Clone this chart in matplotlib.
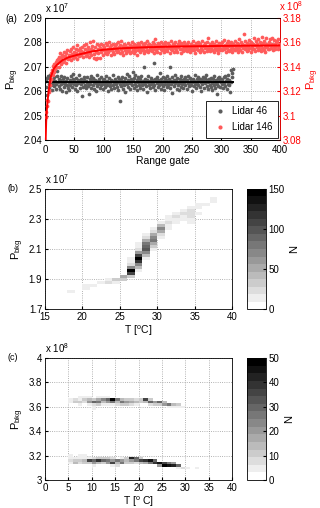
import numpy as np
import matplotlib
matplotlib.use('Agg')
import matplotlib.pyplot as plt
from matplotlib.colors import ListedColormap
from matplotlib.ticker import FuncFormatter
from matplotlib.lines import Line2D

plt.rcParams['font.family'] = ['Liberation Sans', 'DejaVu Sans']
plt.rcParams['mathtext.default'] = 'regular'
plt.rcParams['xtick.direction'] = 'in'
plt.rcParams['ytick.direction'] = 'in'
plt.rcParams['xtick.major.size'] = 2.5
plt.rcParams['ytick.major.size'] = 2.5
plt.rcParams['axes.linewidth'] = 0.6

# ---------------- panel (a) data ----------------
# Lidar 46 background power, one value per range gate (units of 1e3)
lidar46 = [
    20642, 20618, 20585, 20655, 20661, 20630, 20612, 20648, 20667, 20624, 20639, 20603, 20651, 20633, 20620, 20658, 20641, 20609, 20629, 20664,
    20683, 20637, 20622, 20650, 20611, 20644, 20628, 20662, 20601, 20635, 20648, 20619, 20657, 20631, 20596, 20640, 20625, 20653, 20614, 20638,
    20606, 20646, 20627, 20661, 20633, 20618, 20650, 20672, 20629, 20641, 20610, 20655, 20624, 20637, 20599, 20645, 20632, 20666, 20615, 20640,
    20628, 20652, 20581, 20636, 20619, 20647, 20660, 20626, 20643, 20612, 20638, 20657, 20621, 20633, 20588, 20649, 20630, 20615, 20662, 20641,
    20624, 20655, 20610, 20637, 20646, 20602, 20633, 20668, 20620, 20641, 20629, 20652, 20613, 20639, 20625, 20658, 20634, 20607, 20645, 20631,
    20650, 20618, 20639, 20662, 20627, 20643, 20600, 20636, 20654, 20621, 20632, 20647, 20609, 20640, 20666, 20625, 20638, 20614, 20651, 20629,
    20643, 20619, 20636, 20660, 20604, 20648, 20631, 20558, 20645, 20622, 20657, 20634, 20611, 20641, 20626, 20653, 20598, 20639, 20672, 20628,
    20646, 20617, 20664, 20633, 20608, 20651, 20639, 20624, 20680, 20642, 20613, 20655, 20630, 20667, 20621, 20644, 20603, 20636, 20658, 20627,
    20649, 20615, 20638, 20661, 20626, 20643, 20609, 20634, 20700, 20631, 20652, 20620, 20645, 20597, 20637, 20663, 20624, 20641, 20612, 20656,
    20630, 20647, 20619, 20639, 20714, 20627, 20651, 20606, 20642, 20633, 20660, 20618, 20645, 20625, 20674, 20636, 20611, 20649, 20629, 20657,
    20622, 20640, 20605, 20653, 20631, 20646, 20617, 20664, 20635, 20626, 20651, 20700, 20613, 20642, 20629, 20658, 20594, 20638, 20647, 20620,
    20668, 20632, 20644, 20611, 20655, 20626, 20639, 20603, 20648, 20635, 20619, 20661, 20630, 20645, 20614, 20652, 20637, 20624, 20659, 20641,
    20608, 20646, 20633, 20662, 20620, 20638, 20655, 20627, 20644, 20599, 20636, 20650, 20623, 20641, 20665, 20631, 20612, 20648, 20634, 20657,
    20625, 20643, 20618, 20652, 20637, 20601, 20646, 20629, 20660, 20640, 20615, 20654, 20632, 20667, 20623, 20645, 20609, 20638, 20651, 20627,
    20642, 20619, 20656, 20634, 20606, 20648, 20626, 20663, 20639, 20612, 20645, 20631, 20590, 20653, 20622, 20640, 20659, 20617, 20636, 20649,
    20628, 20644, 20613, 20657, 20635, 20621, 20662, 20640, 20609, 20650, 20631, 20666, 20624, 20647, 20598, 20685, 20638, 20660, 20676, 20693,
]
lidar46_mean = 20638  # black line level (units of 1e3)

# Lidar 146 background power, one value per range gate (units of 1e4)
lidar146 = [
    30990, 31030, 31080, 31130, 31120, 31210, 31190, 31280, 31250, 31350, 31300, 31370, 31330, 31410, 31360, 31420, 31380, 31440, 31395, 31455,
    31430, 31465, 31395, 31480, 31445, 31510, 31420, 31470, 31500, 31440, 31485, 31525, 31455, 31490, 31430, 31515, 31470, 31540, 31460, 31500,
    31475, 31530, 31490, 31455, 31545, 31505, 31470, 31560, 31495, 31520, 31480, 31550, 31510, 31465, 31575, 31500, 31535, 31490, 31555, 31515,
    31530, 31495, 31560, 31520, 31480, 31575, 31510, 31545, 31490, 31590, 31525, 31500, 31565, 31535, 31480, 31600, 31515, 31550, 31495, 31570,
    31540, 31610, 31505, 31470, 31560, 31525, 31465, 31585, 31475, 31545, 31510, 31575, 31470, 31555, 31590, 31520, 31545, 31500, 31580, 31535,
    31560, 31515, 31595, 31540, 31505, 31575, 31550, 31520, 31600, 31535, 31565, 31495, 31580, 31545, 31520, 31590, 31555, 31505, 31570, 31540,
    31585, 31520, 31555, 31600, 31530, 31565, 31510, 31580, 31545, 31610, 31525, 31570, 31500, 31555, 31590, 31535, 31575, 31515, 31560, 31545,
    31530, 31595, 31550, 31510, 31580, 31565, 31525, 31605, 31540, 31570, 31515, 31590, 31555, 31530, 31575, 31500, 31560, 31595, 31540, 31580,
    31550, 31520, 31600, 31565, 31535, 31585, 31545, 31510, 31570, 31595, 31530, 31560, 31615, 31540, 31575, 31520, 31590, 31555, 31535, 31580,
    31565, 31530, 31600, 31550, 31515, 31585, 31560, 31625, 31540, 31575, 31525, 31595, 31555, 31580, 31510, 31570, 31545, 31605, 31535, 31565,
    31590, 31550, 31520, 31575, 31605, 31540, 31565, 31530, 31595, 31555, 31580, 31515, 31570, 31545, 31610, 31535, 31560, 31590, 31525, 31575,
    31555, 31600, 31535, 31570, 31520, 31585, 31560, 31615, 31545, 31575, 31510, 31595, 31550, 31580, 31530, 31565, 31600, 31540, 31575, 31555,
    31585, 31530, 31570, 31605, 31545, 31560, 31520, 31590, 31555, 31575, 31535, 31610, 31565, 31540, 31580, 31515, 31595, 31550, 31570, 31600,
    31540, 31575, 31525, 31590, 31560, 31545, 31610, 31535, 31570, 31580, 31520, 31595, 31555, 31565, 31530, 31600, 31545, 31640, 31560, 31585,
    31530, 31575, 31555, 31605, 31540, 31570, 31520, 31590, 31560, 31545, 31615, 31535, 31580, 31555, 31510, 31595, 31565, 31540, 31585, 31550,
    31600, 31535, 31570, 31545, 31620, 31555, 31580, 31525, 31595, 31560, 31540, 31610, 31570, 31530, 31585, 31550, 31605, 31565, 31520, 31590,
    31545, 31575, 31610, 31535, 31565, 31595, 31550, 31520, 31585, 31630, 31560, 31540, 31600, 31570, 31525, 31590, 31555, 31672, 31580, 31545,
    31615, 31560, 31530, 31595, 31570, 31540, 31620, 31555, 31585, 31525, 31605, 31565, 31545, 31590, 31635, 31550, 31575, 31530, 31610, 31560,
    31585, 31540, 31625, 31570, 31550, 31600, 31530, 31580, 31645, 31555, 31595, 31540, 31615, 31565, 31525, 31590, 31640, 31560, 31575, 31550,
    31605, 31545, 31630, 31575, 31555, 31640, 31590, 31535, 31620, 31565, 31585, 31545, 31610, 31570, 31600, 31550, 31625, 31580, 31560, 31590,
]
# fitted curve for Lidar 146 (units of 1e4)
fit146_gate = [1, 2, 3, 4, 5, 7, 10, 15, 20, 30, 40, 55, 80, 100, 130, 170, 220, 280, 340, 400]
fit146_val = [30780, 30950, 31040, 31100, 31150, 31230, 31320, 31385, 31415, 31455, 31478, 31498,
              31526, 31540, 31552, 31560, 31566, 31570, 31573, 31575]

# ---------------- panel (b) data: 2D histogram cells ----------------
b_T = [18, 20, 20, 21, 22, 23, 23, 24, 24, 25, 25,
       26, 26, 26, 26, 26, 26, 26,
       27, 27, 27, 27, 27, 27, 27, 27, 27, 27,
       28, 28, 28, 28, 28, 28, 28, 28, 28,
       29, 29, 29, 29, 29, 29, 29, 29,
       30, 30, 30, 30, 30, 30,
       31, 31, 31, 31, 31,
       32, 32, 32, 32,
       33, 33, 33, 33,
       34, 34, 34, 34, 34, 34,
       35, 35, 35, 36, 37, 37]
b_P = [1.82, 1.84, 1.86, 1.86, 1.88, 1.88, 1.90, 1.90, 1.88, 1.92, 1.90,
       2.04, 2.02, 2.00, 1.98, 1.96, 1.94, 1.92,
       2.14, 2.12, 2.10, 2.08, 2.06, 2.04, 2.02, 2.00, 1.98, 1.96,
       2.20, 2.18, 2.16, 2.14, 2.12, 2.10, 2.08, 2.06, 2.04,
       2.24, 2.22, 2.20, 2.18, 2.16, 2.14, 2.12, 2.10,
       2.28, 2.26, 2.24, 2.22, 2.20, 2.18,
       2.32, 2.30, 2.28, 2.26, 2.24,
       2.34, 2.32, 2.30, 2.28,
       2.36, 2.34, 2.32, 2.30,
       2.38, 2.36, 2.34, 2.32, 2.30, 2.28,
       2.40, 2.38, 2.34, 2.40, 2.44, 2.42]
b_N = [12, 12, 10, 15, 18, 20, 12, 35, 14, 50, 30,
       12, 18, 28, 70, 150, 110, 35,
       10, 15, 28, 60, 110, 145, 120, 70, 40, 18,
       12, 22, 50, 75, 90, 95, 70, 40, 15,
       12, 25, 50, 70, 75, 55, 30, 14,
       15, 45, 70, 50, 25, 12,
       12, 18, 20, 15, 10,
       15, 20, 15, 10,
       15, 22, 18, 12,
       12, 20, 25, 22, 15, 10,
       10, 10, 10, 10, 14, 14]

# ---------------- panel (c) data: 2D histogram cells ----------------
c_T = [5, 5, 6, 6, 7, 7, 7, 7, 8, 8, 8, 9, 9, 9, 9,
       10, 10, 10, 10, 10, 11, 11, 11, 11, 12, 12, 12, 12, 13, 13, 13, 13,
       14, 14, 14, 15, 15, 15, 16, 16, 16, 17, 17, 17, 18, 18, 18, 19, 19, 19,
       20, 20, 21, 21, 22, 22, 22, 23, 23, 24, 24, 25, 25, 26, 26, 27, 27, 28, 28, 29,
       5, 5, 5, 5, 6, 6, 6, 7, 7, 7, 7, 8, 8, 8, 8, 9, 9, 9,
       10, 10, 10, 10, 11, 11, 11, 12, 12, 12, 13, 13, 13,
       14, 14, 14, 14, 15, 15, 15, 16, 16, 16, 17, 17, 17, 18, 18, 18, 19, 19, 19,
       20, 20, 20, 21, 21, 22, 22, 23, 23, 24, 24, 25, 25, 26, 26, 27, 27, 28, 28, 29, 30, 32]
c_P = [3.66, 3.64, 3.66, 3.64, 3.68, 3.66, 3.64, 3.62, 3.68, 3.66, 3.64, 3.68, 3.66, 3.64, 3.62,
       3.66, 3.64, 3.62, 3.60, 3.58, 3.68, 3.66, 3.64, 3.62, 3.68, 3.66, 3.64, 3.62, 3.68, 3.66, 3.64, 3.62,
       3.66, 3.64, 3.62, 3.66, 3.64, 3.62, 3.66, 3.64, 3.62, 3.66, 3.64, 3.62, 3.66, 3.64, 3.62, 3.66, 3.64, 3.62,
       3.66, 3.64, 3.66, 3.64, 3.66, 3.64, 3.62, 3.64, 3.62, 3.64, 3.62, 3.64, 3.62, 3.62, 3.60, 3.62, 3.60, 3.62, 3.60, 3.60,
       3.20, 3.18, 3.16, 3.14, 3.18, 3.16, 3.14, 3.20, 3.18, 3.16, 3.14, 3.20, 3.18, 3.16, 3.14, 3.18, 3.16, 3.14,
       3.18, 3.16, 3.14, 3.12, 3.18, 3.16, 3.14, 3.18, 3.16, 3.14, 3.18, 3.16, 3.14,
       3.18, 3.16, 3.14, 3.12, 3.16, 3.14, 3.12, 3.18, 3.16, 3.14, 3.18, 3.16, 3.14, 3.18, 3.16, 3.14, 3.18, 3.16, 3.14,
       3.18, 3.16, 3.14, 3.16, 3.14, 3.16, 3.14, 3.16, 3.14, 3.14, 3.12, 3.14, 3.12, 3.14, 3.12, 3.14, 3.12, 3.12, 3.10, 3.10, 3.10, 3.10]
c_N = [6, 4, 8, 10, 4, 5, 12, 4, 4, 10, 8, 4, 14, 20, 6,
       12, 30, 8, 4, 4, 5, 18, 25, 10, 6, 22, 15, 5, 4, 30, 20, 6,
       50, 25, 5, 25, 15, 8, 15, 25, 12, 10, 20, 10, 12, 18, 8, 8, 15, 6,
       12, 10, 35, 15, 10, 30, 8, 20, 10, 30, 12, 15, 20, 25, 6, 15, 5, 10, 4, 5,
       4, 5, 8, 4, 4, 10, 15, 4, 6, 12, 8, 4, 5, 15, 10, 6, 35, 12,
       8, 30, 20, 5, 10, 38, 15, 12, 30, 10, 10, 25, 20,
       8, 20, 35, 6, 25, 15, 8, 6, 20, 25, 10, 15, 12, 42, 20, 10, 30, 25, 8,
       12, 35, 15, 40, 18, 45, 25, 30, 40, 45, 20, 35, 50, 25, 45, 20, 42, 30, 6, 8, 5, 5]

# ---------------- figure ----------------
W, H = 320, 508
fig = plt.figure(figsize=(W / 100, H / 100), dpi=100)


def rect(l, t, r, b):
    return [l / W, 1 - b / H, (r - l) / W, (b - t) / H]


FS = 7
grid_kw = dict(color='0.6', linestyle=':', linewidth=0.6)
fmt = FuncFormatter(lambda v, p: ('%g' % round(v, 4)))

# ----- (a)
ax1 = fig.add_axes(rect(45, 18, 280, 140))
gates46 = np.arange(1, len(lidar46) + 1)
gates146 = np.arange(1, len(lidar146) + 1)
ax1.plot(gates46, np.array(lidar46) / 1e4, 'o', ms=2.7, color='#5c5c5c', mec='none', zorder=3)
ax1.plot([gates46[0], gates46[-1]], [lidar46_mean / 1e4] * 2, color='black', lw=1.4, zorder=4)
ax1.set_xlim(0, 400)
ax1.set_ylim(2.04, 2.09)
ax1.set_xticks(np.arange(0, 401, 50))
ax1.set_yticks(np.arange(2.04, 2.0901, 0.01))
ax1.yaxis.set_major_formatter(fmt)
ax1.tick_params(axis='y', labelsize=FS, pad=2)
ax1.tick_params(axis='x', labelsize=FS, pad=3.5)
ax1.grid(True, **grid_kw)
ax1.set_axisbelow(True)
ax1.set_xlabel('Range gate', fontsize=FS + 0.5, labelpad=1)
ax1.set_ylabel('P$_{bkg}$', fontsize=FS + 1, labelpad=2)

ax2 = ax1.twinx()
ax2.plot(gates146, np.array(lidar146) / 1e4, 'o', ms=2.7, color='#ff5a5a', mec='none', zorder=3)
ax2.plot(fit146_gate, np.array(fit146_val) / 1e4, color='red', lw=1.4, zorder=4)
ax2.set_ylim(3.08, 3.18)
ax2.set_yticks(np.arange(3.08, 3.1801, 0.02))
ax2.yaxis.set_major_formatter(fmt)
ax2.tick_params(axis='y', colors='red', labelsize=FS, pad=2)
ax2.spines['right'].set_color('red')
ax2.set_ylabel('P$_{bkg}$', fontsize=FS + 1, color='red', labelpad=2)
handles = [Line2D([], [], marker='o', ls='none', ms=3, color='#5c5c5c', mec='none'),
           Line2D([], [], marker='o', ls='none', ms=3, color='#ff5a5a', mec='none')]
leg = ax2.legend(handles, ['Lidar 46', 'Lidar 146'], loc='lower right', fontsize=FS,
                 frameon=True, fancybox=False, edgecolor='black', framealpha=1,
                 borderaxespad=0.25, handletextpad=0.3, handlelength=1.8, borderpad=0.55,
                 labelspacing=0.6)
leg.get_frame().set_linewidth(0.6)
fig.text(5 / W, 1 - 22 / H, '(a)', fontsize=FS)
fig.text(45 / W, 1 - 13 / H, 'x 10$^{7}$', fontsize=FS)
fig.text(279 / W, 1 - 11 / H, 'x 10$^{8}$', fontsize=FS, color='red')

# colormap: 16 gray levels white -> black
cmap = ListedColormap([(g, g, g) for g in np.linspace(1.0, 0.0, 16)])


def hist_grid(Ts, Ps, Ns, t0, t1, p0, dp, np_):
    Hm = np.zeros((np_, t1 - t0))
    for t, p, n in zip(Ts, Ps, Ns):
        Hm[int(round((p - p0) / dp)), t - t0] += n
    return np.ma.masked_equal(Hm, 0)


# ----- (b)
axb = fig.add_axes(rect(45, 189, 232, 309))
Hb = hist_grid(b_T, b_P, b_N, 15, 40, 1.70, 0.02, 41)
te = np.arange(15, 41)
pe = 1.69 + 0.02 * np.arange(42)
mb = axb.pcolormesh(te, pe, Hb, cmap=cmap, vmin=0, vmax=150, zorder=2)
axb.set_xlim(15, 40)
axb.set_ylim(1.7, 2.5)
axb.set_xticks(np.arange(15, 41, 5))
axb.set_yticks([1.7, 1.9, 2.1, 2.3, 2.5])
axb.yaxis.set_major_formatter(fmt)
axb.tick_params(labelsize=FS, pad=2)
axb.grid(True, **grid_kw)
axb.set_axisbelow(True)
axb.set_xlabel('T [$^{o}$C]', fontsize=FS + 0.5, labelpad=1)
axb.set_ylabel('P$_{bkg}$', fontsize=FS + 1, labelpad=2)
caxb = fig.add_axes(rect(247, 189, 266, 309))
cbb = fig.colorbar(mb, cax=caxb, ticks=[0, 50, 100, 150])
cbb.ax.tick_params(labelsize=FS, pad=2, direction='in', length=2)
cbb.outline.set_linewidth(0.6)
cbb.set_label('N', fontsize=FS + 1, rotation=90, labelpad=3)
fig.text(7 / W, 1 - 191 / H, '(b)', fontsize=FS - 0.5)
fig.text(45 / W, 1 - 184 / H, 'x 10$^{7}$', fontsize=FS)

# ----- (c)
axc = fig.add_axes(rect(45, 358, 232, 480))
Hc = hist_grid(c_T, c_P, c_N, 0, 40, 3.00, 0.02, 51)
te_c = np.arange(0, 41)
pe_c = 2.99 + 0.02 * np.arange(52)
mc = axc.pcolormesh(te_c, pe_c, Hc, cmap=cmap, vmin=0, vmax=50, zorder=2)
axc.set_xlim(0, 40)
axc.set_ylim(3.0, 4.0)
axc.set_xticks(np.arange(0, 41, 5))
axc.set_yticks(np.arange(3.0, 4.01, 0.2))
axc.yaxis.set_major_formatter(fmt)
axc.tick_params(labelsize=FS, pad=2)
axc.grid(True, **grid_kw)
axc.set_axisbelow(True)
axc.set_xlabel('T [$^{o}$ C]', fontsize=FS + 0.5, labelpad=1)
axc.set_ylabel('P$_{bkg}$', fontsize=FS + 1, labelpad=2)
caxc = fig.add_axes(rect(247, 358, 266, 480))
cbc = fig.colorbar(mc, cax=caxc, ticks=[0, 10, 20, 30, 40, 50])
cbc.ax.tick_params(labelsize=FS, pad=2, direction='in', length=2)
cbc.outline.set_linewidth(0.6)
cbc.set_label('N', fontsize=FS + 1, rotation=90, labelpad=3)
fig.text(7 / W, 1 - 360 / H, '(c)', fontsize=FS - 0.5)
fig.text(45 / W, 1 - 353 / H, 'x 10$^{8}$', fontsize=FS)

fig.savefig('out.png', dpi=100)
